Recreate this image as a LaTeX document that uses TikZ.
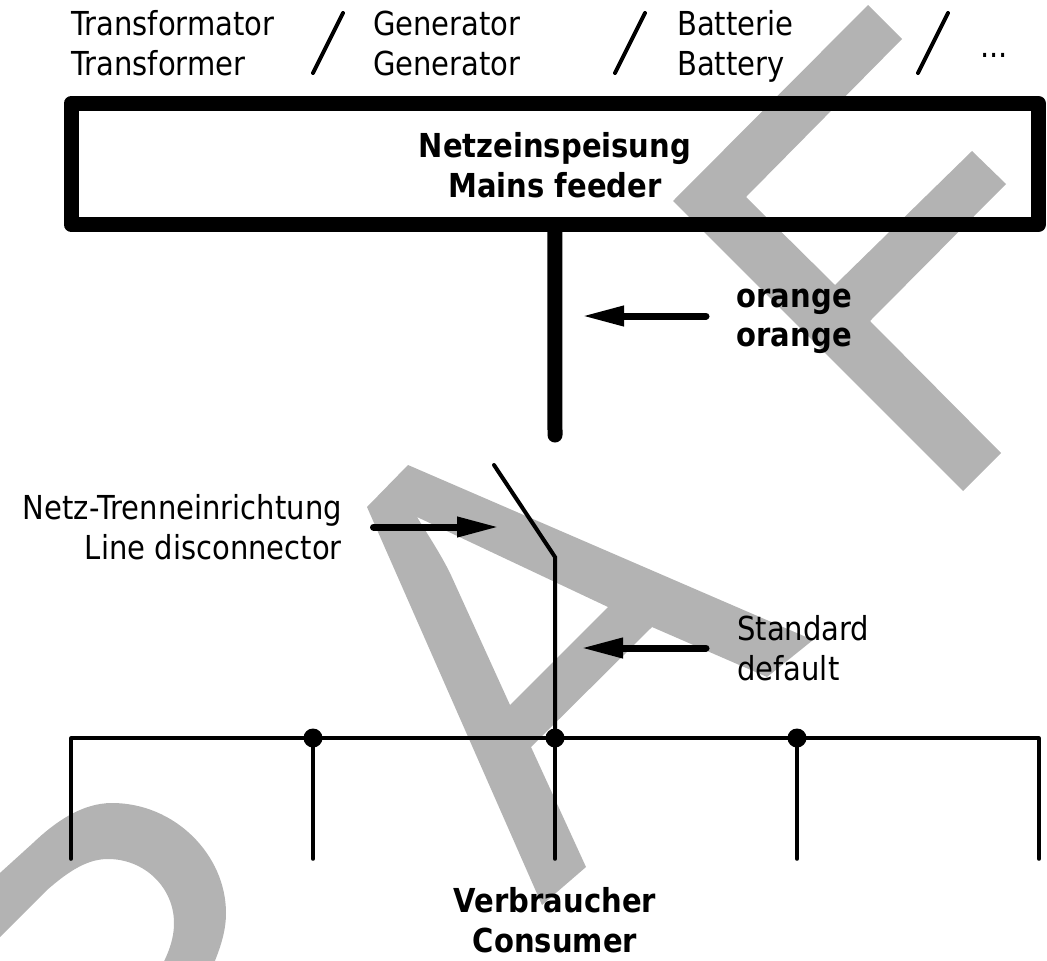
\documentclass[tikz,border=0pt]{standalone}
\usepackage{fontspec}
\setmainfont{DejaVu Sans}[FakeStretch=0.88]
\usetikzlibrary{matrix,arrows.meta}
\definecolor{draftgray}{HTML}{B3B3B3}
\tikzset{%
  draft/.style={%
    fill=draftgray, draw=none, even odd rule
  },
  label/.style={%
    font=\fontsize{33}{39.5}\selectfont, inner sep=0pt, align=left
  },
  boldlabel/.style={%
    label, font=\fontsize{33}{39.5}\selectfont\bfseries, align=center
  },
  pointer/.style={%
    line width=7pt, line cap=round, -{Triangle[length=42pt,width=19pt]}
  },
  wire/.style={%
    line width=4pt, line cap=round
  },
  dot/.style={%
    circle, fill=black, inner sep=0pt, minimum size=19pt
  }
}

\begin{document}
\begin{tikzpicture}[x=1pt,y=-1pt]
    \useasboundingbox (0,0) rectangle (1047,961);

    \fill [draft] (868,5) -- (902,39) -- (746,197) -- (835,285) -- (972,151)
      -- (1006,184) -- (870,321) -- (1001,453) -- (963,491) -- (673,201) -- cycle;
    \fill [draft] (408,465) -- (813,640) -- (767,677) -- (652,627) -- (531,747)
      -- (586,867) -- (542,905) -- (367,507) -- cycle
      (417,517) .. controls (428,535) and (440,553) .. (450,573) -- (510,705) -- (608,607) -- cycle;
    \fill [draft] (-10,882) -- (33,843) .. controls (55,822) and (82,803) .. (112,803)
      .. controls (175,803) and (226,855) .. (226,913)
      .. controls (226,932) and (220,950) .. (209,975) -- (157,975)
      .. controls (168,955) and (174,940) .. (174,923)
      .. controls (174,888) and (145,859) .. (108,859)
      .. controls (88,859) and (70,870) .. (47,890) -- (-10,947) -- cycle;

    \matrix (m) [matrix of nodes, nodes in empty cells, row sep=121pt, column sep=242pt,
      nodes={inner sep=0pt, minimum size=0pt}] at (555,798.5)
    { & & & & \\
      & & & & \\
    };

    \node (trafo) [label, anchor=base west] at (71,75) {Transformator\\Transformer};
    \node (gen) [label, anchor=base west] at (373,75) {Generator\\Generator};
    \node (batt) [label, anchor=base west] at (677,75) {Batterie\\Battery};
    \node (more) [label, anchor=base west] at (980,57) {...};
    \node (feeder) [draw, line width=15pt, line join=round, minimum width=967.5pt,
      minimum height=121pt, inner sep=0pt] at (554.75,164) {};
    \node (feedertext) [boldlabel, anchor=base] at (555,197) {Netzeinspeisung\\Mains feeder};
    \node (orangetext) [label, font=\fontsize{33}{39.5}\selectfont\bfseries, anchor=base west] at (736.5,346.5) {orange\\orange};
    \node (disconntext) [label, align=right, anchor=base east] at (342,559) {Netz-Trenneinrichtung\\Line disconnector};
    \node (stdtext) [label, anchor=base west] at (737,680) {Standard\\default};
    \node (consumer) [boldlabel, anchor=base] at (555,952) {Verbraucher\\Consumer};

    \coordinate (stemend) at (555,435);
    \coordinate (swtop) at (494,465);
    \coordinate (swhinge) at (555,557);
    \coordinate (slasha) at (343,13);
    \coordinate (slashb) at (313,73);
    \coordinate (slashc) at (645,13);
    \coordinate (slashd) at (615,73);
    \coordinate (slashe) at (948,13);
    \coordinate (slashf) at (918,73);
    \coordinate (orangefrom) at (706,316);
    \coordinate (orangetip) at (582,316);
    \coordinate (disconnfrom) at (373.5,527);
    \coordinate (disconntip) at (499,527);
    \coordinate (stdfrom) at (706,648);
    \coordinate (stdtip) at (581,648);

    \draw [wire] (slasha) -- (slashb);
    \draw [wire] (slashc) -- (slashd);
    \draw [wire] (slashe) -- (slashf);
    \draw [line width=15pt, line cap=round] (feeder.south) -- (stemend);
    \draw [pointer] (orangefrom) -- (orangetip);
    \draw [pointer] (disconnfrom) -- (disconntip);
    \draw [pointer] (stdfrom) -- (stdtip);
    \draw [wire] (swtop) -- (swhinge) -- (m-1-3);
    \draw [wire] (m-2-1) -- (m-1-1) -- (m-1-5) -- (m-2-5);
    \draw [wire] (m-1-2) -- (m-2-2);
    \draw [wire] (m-1-3) -- (m-2-3);
    \draw [wire] (m-1-4) -- (m-2-4);
    \node (joina) [dot] at (m-1-2) {};
    \node (joinb) [dot] at (m-1-3) {};
    \node (joinc) [dot] at (m-1-4) {};
\end{tikzpicture}
\end{document}
